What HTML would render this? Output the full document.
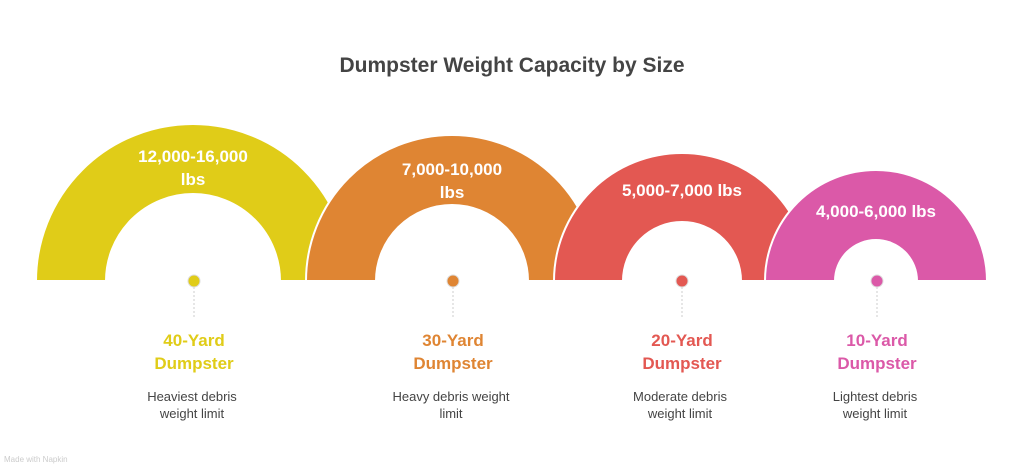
<!DOCTYPE html>
<html><head><meta charset="utf-8"><style>
html,body{margin:0;padding:0;background:#fff;}
svg{display:block;font-family:"Liberation Sans",sans-serif;}
</style></head><body>
<svg width="1024" height="471" viewBox="0 0 1024 471">
<text x="512" y="72" text-anchor="middle" font-size="21" font-weight="bold" fill="#444">Dumpster Weight Capacity by Size</text>
<g stroke="#fff" stroke-width="2">
<path d="M36,281 A157,157 0 0 1 350,281 L280,281 A87,87 0 0 0 106,281 Z" fill="#E0CC18"/>
<path d="M306,281 A146,146 0 0 1 598,281 L528,281 A76,76 0 0 0 376,281 Z" fill="#DF8533"/>
<path d="M554,281 A128,128 0 0 1 810,281 L741,281 A59,59 0 0 0 623,281 Z" fill="#E35852"/>
<path d="M765,281 A111,111 0 0 1 987,281 L917,281 A41,41 0 0 0 835,281 Z" fill="#DB59A8"/>
</g>
<g fill="#fff" font-weight="bold" font-size="17" text-anchor="middle">
<text x="193" y="162">12,000-16,000</text><text x="193" y="185">lbs</text>
<text x="452" y="175">7,000-10,000</text><text x="452" y="198">lbs</text>
<text x="682" y="196">5,000-7,000 lbs</text>
<text x="876" y="217">4,000-6,000 lbs</text>
</g>
<g stroke="#ccc" stroke-width="1" stroke-dasharray="2,2">
<line x1="194" y1="287" x2="194" y2="318"/><line x1="453" y1="287" x2="453" y2="318"/>
<line x1="682" y1="287" x2="682" y2="318"/><line x1="877" y1="287" x2="877" y2="318"/>
</g>
<g stroke="#ddd" stroke-width="1">
<circle cx="194" cy="281" r="6" fill="#E0CC18"/>
<circle cx="453" cy="281" r="6" fill="#DF8533"/>
<circle cx="682" cy="281" r="6" fill="#E35852"/>
<circle cx="877" cy="281" r="6" fill="#DB59A8"/>
</g>
<g font-weight="bold" font-size="17" text-anchor="middle">
<text x="194" y="346" fill="#E0CC18">40-Yard</text><text x="194" y="369" fill="#E0CC18">Dumpster</text>
<text x="453" y="346" fill="#DF8533">30-Yard</text><text x="453" y="369" fill="#DF8533">Dumpster</text>
<text x="682" y="346" fill="#E35852">20-Yard</text><text x="682" y="369" fill="#E35852">Dumpster</text>
<text x="877" y="346" fill="#DB59A8">10-Yard</text><text x="877" y="369" fill="#DB59A8">Dumpster</text>
</g>
<g font-size="13" fill="#444" text-anchor="middle">
<text x="192" y="401">Heaviest debris</text><text x="192" y="418">weight limit</text>
<text x="451" y="401">Heavy debris weight</text><text x="451" y="418">limit</text>
<text x="680" y="401">Moderate debris</text><text x="680" y="418">weight limit</text>
<text x="875" y="401">Lightest debris</text><text x="875" y="418">weight limit</text>
</g>
<text x="4" y="462" font-size="8" fill="#ccc">Made with Napkin</text>
</svg>
</body></html>
